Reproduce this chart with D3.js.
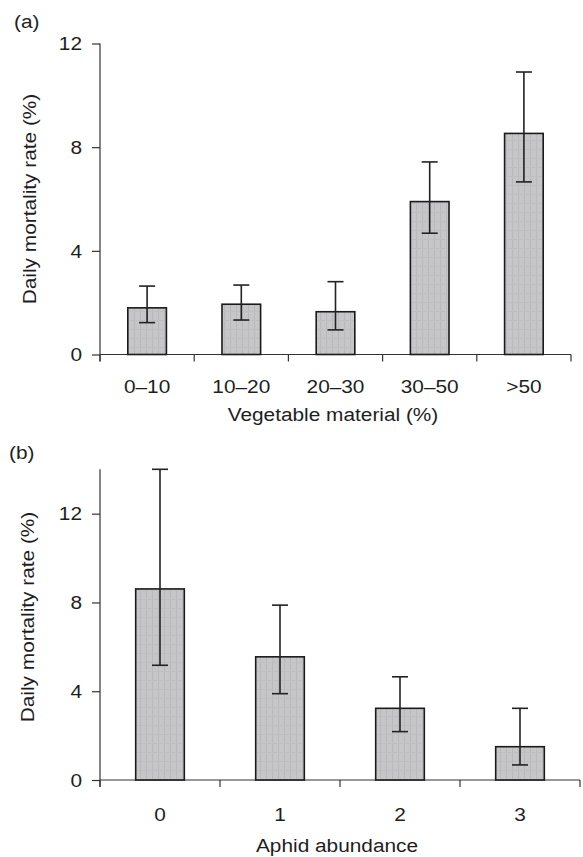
<!DOCTYPE html>
<html>
<head>
<meta charset="utf-8">
<script src="https://cdn.jsdelivr.net/npm/d3@7"></script>
<style>
  html, body { margin: 0; padding: 0; background: #fff; }
  svg { display: block; }
  text { font-family: Arial, "Liberation Sans", Helvetica, sans-serif; fill: #1e1e1e; }
</style>
</head>
<body>
<svg id="chart" width="583" height="857"></svg>
<script>
// ---- Data ----
const vegCategories = ["0\u201310", "10\u201320", "20\u201330", "30\u201350", ">50"];
const vegMean  = [1.80, 1.94, 1.65, 5.90, 8.53];
const vegLower = [1.23, 1.33, 0.95, 4.68, 6.66];
const vegUpper = [2.64, 2.68, 2.81, 7.43, 10.90];
const vegTicks = [0, 4, 8, 12];

const aphCategories = ["0", "1", "2", "3"];
const aphMean  = [8.61, 5.55, 3.23, 1.50];
const aphLower = [5.17, 3.89, 2.18, 0.68];
const aphUpper = [14.0, 7.88, 4.65, 3.23];
const aphTicks = [0, 4, 8, 12];

const svg = d3.select("#chart");
const FS = 18.6, SX = 1.12;

// bar texture
const defs = svg.append("defs");
const pat = defs.append("pattern").attr("id", "tex").attr("patternUnits", "userSpaceOnUse")
  .attr("width", 6).attr("height", 9);
pat.append("rect").attr("width", 6).attr("height", 9).attr("fill", "#c6c6c9");
pat.append("rect").attr("x", 2).attr("width", 1).attr("height", 9).attr("fill", "#b9b9bd");
pat.append("rect").attr("y", 5).attr("width", 6).attr("height", 1).attr("fill", "#bfbfc2");

function label(g, x, y, txt, anchor, rot, size) {
  return g.append("text")
    .attr("transform", `translate(${x},${y})${rot ? " rotate(" + rot + ")" : ""} scale(${SX},1)`)
    .attr("text-anchor", anchor).attr("font-size", size || FS).text(txt);
}

function panel(opt) {
  const g = svg.append("g");
  const x = d3.scaleBand().domain(opt.cats).range([opt.x0, opt.x1])
    .paddingInner(opt.pad).paddingOuter(opt.pad / 2);
  const y = d3.scaleLinear().domain(opt.domain).range([opt.y0, opt.y1]);
  const step = x.step();
  const bw = x.bandwidth();

  // y axis
  const yAxis = d3.axisLeft(y).tickValues(opt.ticks).tickSize(8).tickFormat("");
  const ya = g.append("g").attr("transform", `translate(${opt.x0},0)`).call(yAxis);
  ya.select(".domain").attr("stroke", "#333").attr("stroke-width", 1.2)
    .attr("d", `M0,${y(opt.domain[0]) + 7}V${y(opt.domain[1])}`);
  ya.selectAll(".tick line").attr("stroke", "#333").attr("stroke-width", 1.2);
  opt.ticks.forEach(t => {
    label(g, opt.x0 - 18, y(t) + FS * 0.36, String(t), "end");
  });

  // x axis line and boundary ticks
  g.append("line").attr("x1", opt.x0).attr("x2", opt.x1)
    .attr("y1", y(0)).attr("y2", y(0)).attr("stroke", "#333").attr("stroke-width", 1.2);
  const bounds = opt.cats.map(c => x(c) - (step - bw) / 2).concat([opt.x1]);
  g.selectAll(".xt").data(bounds).enter().append("line")
    .attr("x1", d => d).attr("x2", d => d)
    .attr("y1", y(0)).attr("y2", y(0) + 7).attr("stroke", "#333").attr("stroke-width", 1.2);

  // bars
  g.selectAll(".bar").data(opt.mean).enter().append("rect")
    .attr("x", (d, i) => x(opt.cats[i]))
    .attr("y", d => y(d))
    .attr("width", bw)
    .attr("height", d => y(0) - y(d))
    .attr("fill", "url(#tex)").attr("stroke", "#1a1a1a").attr("stroke-width", 1.6);

  // error bars
  const cap = 16;
  opt.cats.forEach((c, i) => {
    const cx = x(c) + bw / 2;
    g.append("line").attr("x1", cx).attr("x2", cx)
      .attr("y1", y(opt.lower[i])).attr("y2", y(opt.upper[i]))
      .attr("stroke", "#222").attr("stroke-width", 1.6);
    [opt.lower[i], opt.upper[i]].forEach(v => {
      g.append("line").attr("x1", cx - cap / 2).attr("x2", cx + cap / 2)
        .attr("y1", y(v)).attr("y2", y(v)).attr("stroke", "#222").attr("stroke-width", 1.6);
    });
  });

  // x tick labels
  opt.cats.forEach(c => label(g, x(c) + bw / 2, y(0) + opt.xLabelDy, c, "middle"));

  // x title
  label(g, opt.xTitleX, opt.xTitleY, opt.xTitle, "middle");

  // y title
  label(g, opt.yTitleX, opt.yTitleY, "Daily mortality rate (%)", "middle", -90);

  // panel label
  label(g, opt.labX, opt.labY, opt.label, "start", 0, 18.6);
}

panel({
  cats: vegCategories, mean: vegMean, lower: vegLower, upper: vegUpper, ticks: vegTicks,
  domain: [0, 12], x0: 100, x1: 571, y0: 354.5, y1: 43.5, pad: 0.59,
  xLabelDy: 38.6, xTitle: "Vegetable material (%)", xTitleX: 333, xTitleY: 420.5,
  yTitleX: 36, yTitleY: 199, label: "(a)", labX: 14, labY: 28
});

panel({
  cats: aphCategories, mean: aphMean, lower: aphLower, upper: aphUpper, ticks: aphTicks,
  domain: [0, 14], x0: 100, x1: 580, y0: 780, y1: 469.3, pad: 0.595,
  xLabelDy: 40.7, xTitle: "Aphid abundance", xTitleX: 337, xTitleY: 851.5,
  yTitleX: 34, yTitleY: 617, label: "(b)", labX: 9, labY: 459
});
</script>
</body>
</html>
